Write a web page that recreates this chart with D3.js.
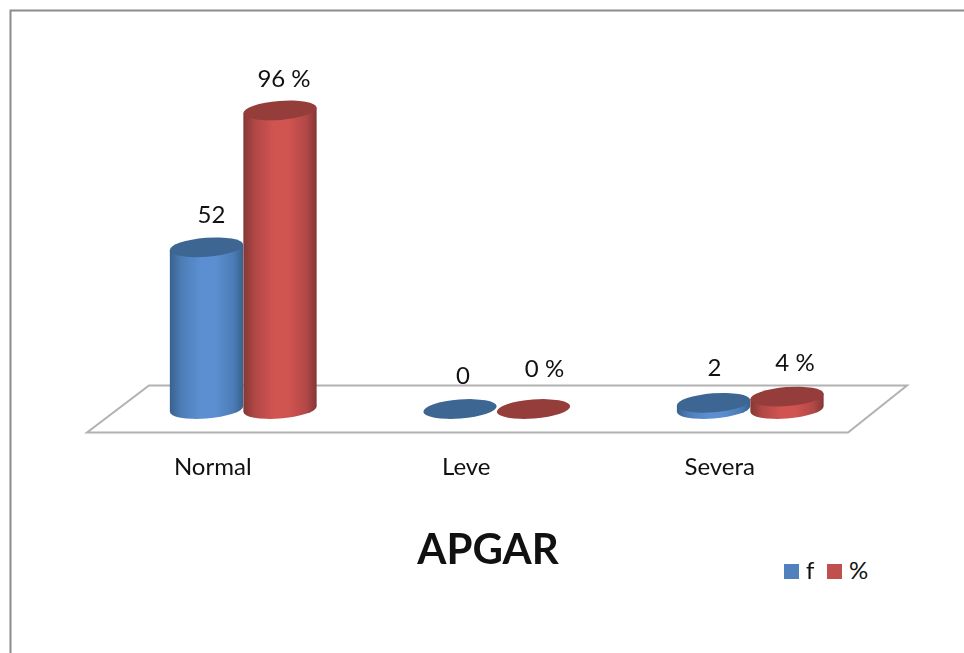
<!DOCTYPE html>
<html>
<head>
<meta charset="utf-8">
<script src="https://d3js.org/d3.v7.min.js"></script>
<style>
html, body { margin: 0; padding: 0; background: #fff; }
svg { display: block; }
text { font-family: Lato, "Open Sans", sans-serif; fill: #111; }
</style>
</head>
<body>
<div id="chart"></div>
<script>
const categories = ['Normal', 'Leve', 'Severa'];
const seriesNames = ['f', '%'];
const freqValues = [52, 0, 2];
const pctValues = [96, 0, 4];
const freqLabels = ['52', '0', '2'];
const pctLabels = ['96 %', '0 %', '4 %'];

const svgWidth = 964;
const svgHeight = 653;

const colors = {
    f: { edge: '#38628e', mid: '#5b8fd2', top: '#3d6693', legend: '#4f81bd' },
    '%': { edge: '#843735', mid: '#d05451', top: '#953d3b', legend: '#c0504d' }
};

const svg = d3.select('#chart')
    .append('svg')
    .attr('width', svgWidth)
    .attr('height', svgHeight);

const defs = svg.append('defs');

defs.append('filter')
    .attr('id', 'soft')
    .attr('x', '-5%').attr('y', '-5%')
    .attr('width', '110%').attr('height', '110%')
    .append('feGaussianBlur')
    .attr('stdDeviation', 0.6);

seriesNames.forEach((name, i) => {
    const between = d3.interpolateRgb(colors[name].edge, colors[name].mid)(0.6);
    const grad = defs.append('linearGradient')
        .attr('id', 'side' + i)
        .attr('x1', 0).attr('x2', 1).attr('y1', 0).attr('y2', 0);
    grad.append('stop').attr('offset', '0%').attr('stop-color', colors[name].edge);
    grad.append('stop').attr('offset', '16%').attr('stop-color', between);
    grad.append('stop').attr('offset', '42%').attr('stop-color', colors[name].mid);
    grad.append('stop').attr('offset', '62%').attr('stop-color', colors[name].mid);
    grad.append('stop').attr('offset', '86%').attr('stop-color', between);
    grad.append('stop').attr('offset', '100%').attr('stop-color', colors[name].edge);
});

// scales
const xCat = d3.scaleBand().domain(categories).range([116, 876.5]);
const xSeries = d3.scaleBand().domain(seriesNames).range([-73, 74]);
const y = d3.scaleLinear().domain([0, 100]).range([409, 98]);

const rx = xSeries.bandwidth() / 2;
const ry = 9.5;
const tilt = -4.5 * Math.PI / 180;

// outer frame, only top and left show in the picture
svg.append('path')
    .attr('d', `M10.5,${svgHeight} V10.5 H${svgWidth}`)
    .attr('fill', 'none')
    .attr('stroke', '#8c8c8c')
    .attr('stroke-width', 2);

// floor of the 3d plot
svg.append('path')
    .attr('d', 'M87,432.5 L848,432.5 L907,385.5 L149,385.5 Z')
    .attr('fill', '#fff')
    .attr('stroke', '#b2b2b2')
    .attr('stroke-width', 2)
    .attr('stroke-linejoin', 'miter');

// point of the tilted ellipse where it touches its left/right extreme
const tx = Math.atan2(-ry * Math.sin(tilt), rx * Math.cos(tilt));
const tangent = {
    x: rx * Math.cos(tx) * Math.cos(tilt) - ry * Math.sin(tx) * Math.sin(tilt),
    y: rx * Math.cos(tx) * Math.sin(tilt) + ry * Math.sin(tx) * Math.cos(tilt)
};
const tiltDeg = tilt * 180 / Math.PI;

function cylinderSide(cx, yTop, yBase) {
    return `M${cx - tangent.x},${yTop - tangent.y}` +
        `L${cx - tangent.x},${yBase - tangent.y}` +
        `A${rx},${ry} ${tiltDeg} 0 0 ${cx + tangent.x},${yBase + tangent.y}` +
        `L${cx + tangent.x},${yTop + tangent.y}Z`;
}

const bars = [];
categories.forEach((cat, c) => {
    bars.push({ cat, series: 'f', s: 0, value: freqValues[c] });
    bars.push({ cat, series: '%', s: 1, value: pctValues[c] });
});

const barCx = d => xCat(d.cat) + xCat.bandwidth() / 2 + xSeries(d.series) + xSeries.bandwidth() / 2;

const barGroup = svg.append('g').attr('class', 'bars').attr('filter', 'url(#soft)');

const bar = barGroup.selectAll('g')
    .data(bars)
    .enter()
    .append('g')
    .attr('class', 'bar');

bar.filter(d => d.value > 0)
    .append('path')
    .attr('d', d => cylinderSide(barCx(d), y(d.value), y(0)))
    .attr('fill', d => `url(#side${d.s})`);

bar.append('ellipse')
    .attr('rx', rx)
    .attr('ry', ry)
    .attr('transform', d => `translate(${barCx(d)},${y(d.value)}) rotate(${tiltDeg})`)
    .attr('fill', d => colors[d.series].top);

// labels were moved by hand in the original, so they need a small nudge each
const labelNudge = {
    'Normal|f': [5, -24], 'Normal|%': [4, -23],
    'Leve|f': [3, -25], 'Leve|%': [11, -32],
    'Severa|f': [1, -27], 'Severa|%': [8, -26]
};

svg.append('g').attr('class', 'data-labels')
    .selectAll('text')
    .data(bars)
    .enter()
    .append('text')
    .attr('x', d => barCx(d) + labelNudge[d.cat + '|' + d.series][0])
    .attr('y', d => y(d.value) + labelNudge[d.cat + '|' + d.series][1])
    .attr('text-anchor', 'middle')
    .attr('font-size', 24)
    .text(d => (d.s === 0 ? freqLabels : pctLabels)[categories.indexOf(d.cat)]);

svg.append('g').attr('class', 'cat-labels')
    .selectAll('text')
    .data(categories)
    .enter()
    .append('text')
    .attr('x', d => xCat(d) + xCat.bandwidth() / 2 - 30)
    .attr('y', 475)
    .attr('text-anchor', 'middle')
    .attr('font-size', 24)
    .text(d => d);

svg.append('text')
    .attr('x', 488)
    .attr('y', 564)
    .attr('text-anchor', 'middle')
    .attr('font-size', 42)
    .attr('font-weight', 700)
    .text('APGAR');

// legend
const legendX = d3.scalePoint().domain(seriesNames).range([784, 827]);
const legend = svg.append('g').attr('class', 'legend')
    .selectAll('g')
    .data(seriesNames)
    .enter()
    .append('g')
    .attr('transform', d => `translate(${legendX(d)},564)`);

legend.append('rect')
    .attr('width', 15)
    .attr('height', 15)
    .attr('fill', d => colors[d].legend);

legend.append('text')
    .attr('x', 22)
    .attr('y', 15)
    .attr('font-size', 24)
    .text(d => d);
</script>
</body>
</html>
